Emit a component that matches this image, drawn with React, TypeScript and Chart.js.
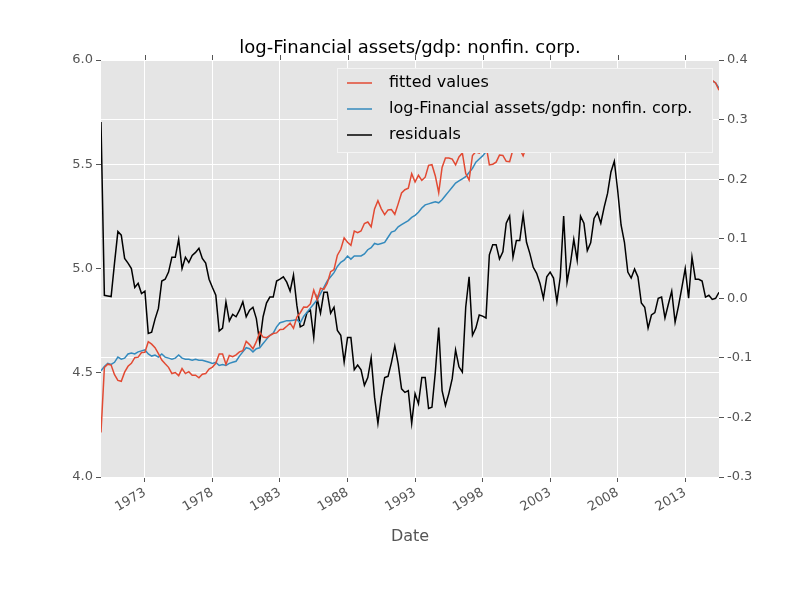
import { useEffect, useRef } from "react";
import { Chart, registerables } from "chart.js";
Chart.register(...registerables);

// quarterly observations, 1969Q4 .. 2015Q3
const START_YEAR = 1969.75;
const STEP = 0.25;

const actual = [
  4.51, 4.53, 4.545, 4.54, 4.55, 4.575, 4.565, 4.57, 4.59, 4.595,
  4.59, 4.6, 4.605, 4.61, 4.59, 4.58, 4.585, 4.575, 4.59, 4.575,
  4.57, 4.565, 4.57, 4.585, 4.57, 4.565, 4.565, 4.56, 4.565, 4.56,
  4.56, 4.555, 4.55, 4.545, 4.55, 4.535, 4.54, 4.535, 4.545, 4.55,
  4.555, 4.58, 4.6, 4.62, 4.615, 4.6, 4.615, 4.62, 4.64, 4.66,
  4.68, 4.69, 4.72, 4.74, 4.745, 4.75, 4.75, 4.752, 4.755, 4.74,
  4.77, 4.79, 4.81, 4.83, 4.85, 4.88, 4.91, 4.94, 4.96, 4.98,
  5.01, 5.03, 5.04, 5.06, 5.045, 5.06, 5.06, 5.06, 5.07, 5.09,
  5.1, 5.12, 5.115, 5.12, 5.125, 5.15, 5.175, 5.18, 5.2, 5.21,
  5.22, 5.23, 5.245, 5.255, 5.27, 5.29, 5.305, 5.31, 5.315, 5.32,
  5.315, 5.33, 5.35, 5.37, 5.39, 5.41, 5.42, 5.43, 5.44, 5.46,
  5.48, 5.51, 5.525, 5.54, 5.56, 5.57, 5.59, 5.6, 5.61, 5.62,
  5.64, 5.65, 5.64, 5.66, 5.67, 5.68, 5.68, 5.69, 5.69, 5.7,
  5.7, 5.7, 5.71, 5.71, 5.72, 5.72, 5.73, 5.74, 5.74, 5.75,
  5.76, 5.76, 5.77, 5.77, 5.78, 5.79, 5.8, 5.81, 5.81, 5.82,
  5.83, 5.82, 5.8, 5.78, 5.76, 5.75, 5.76, 5.77, 5.78, 5.78,
  5.79, 5.79, 5.8, 5.8, 5.81, 5.82, 5.82, 5.82, 5.83, 5.84,
  5.84, 5.85, 5.86, 5.86, 5.87, 5.88, 5.88, 5.89, 5.89, 5.9,
  5.9, 5.9, 5.89, 5.865,
];

const residuals = [
  0.296, 0.005, 0.004, 0.003, 0.059, 0.112, 0.106, 0.067, 0.059, 0.05,
  0.018, 0.025, 0.008, 0.012, -0.059, -0.057, -0.035, -0.017, 0.029, 0.032,
  0.044, 0.069, 0.069, 0.099, 0.05, 0.069, 0.06, 0.072, 0.077, 0.084,
  0.067, 0.059, 0.032, 0.018, 0.005, -0.055, -0.05, -0.006, -0.038, -0.027,
  -0.031, -0.02, -0.006, -0.031, -0.02, -0.015, -0.034, -0.074, -0.031, -0.008,
  0.002, 0.002, 0.029, 0.032, 0.036, 0.027, 0.012, 0.039, -0.012, -0.048,
  -0.045, -0.024, -0.02, -0.066, 0.0, -0.025, 0.01, 0.01, -0.025, -0.015,
  -0.054, -0.062, -0.107, -0.066, -0.066, -0.12, -0.112, -0.12, -0.146, -0.133,
  -0.1, -0.166, -0.21, -0.166, -0.133, -0.131, -0.108, -0.08, -0.11, -0.152,
  -0.158, -0.155, -0.21, -0.16, -0.177, -0.133, -0.133, -0.185, -0.183, -0.124,
  -0.049, -0.155, -0.18, -0.16, -0.135, -0.087, -0.115, -0.124, -0.015, 0.036,
  -0.062, -0.05, -0.028, -0.03, -0.033, 0.073, 0.09, 0.09, 0.066, 0.078,
  0.126, 0.138, 0.069, 0.097, 0.097, 0.14, 0.094, 0.075, 0.052, 0.042,
  0.025, 0.0, 0.036, 0.044, 0.034, -0.006, 0.036, 0.138, 0.027, 0.058,
  0.099, 0.064, 0.138, 0.126, 0.08, 0.093, 0.134, 0.144, 0.126, 0.153,
  0.176, 0.212, 0.23, 0.181, 0.123, 0.094, 0.044, 0.034, 0.049, 0.036,
  -0.008, -0.015, -0.05, -0.028, -0.024, 0.0, 0.002, -0.033, -0.01, 0.012,
  -0.04, -0.013, 0.018, 0.05, 0.0, 0.069, 0.032, 0.032, 0.029, 0.002,
  0.005, -0.002, 0.0, 0.01,
];

const yearTicks = [1973, 1978, 1983, 1988, 1993, 1998, 2003, 2008, 2013];

const TITLE = "log-Financial assets/gdp: nonfin. corp.";
const labels = ["fitted values", "log-Financial assets/gdp: nonfin. corp.", "residuals"];
const colors = ["#E24A33", "#348ABD", "#000000"];
const FONT = "'DejaVu Sans', sans-serif";

const years = actual.map((_, i) => START_YEAR + i * STEP);
// fitted = actual - residual
const fitted = actual.map((v, i) => v - residuals[i]);

const decorPlugin = {
  id: "decor",
  beforeDraw(chart: any) {
    const { ctx, chartArea: a } = chart;
    ctx.save();
    ctx.fillStyle = "#E5E5E5";
    ctx.fillRect(a.left, a.top, a.right - a.left, a.bottom - a.top);
    ctx.restore();
  },
  afterDraw(chart: any) {
    const { ctx, chartArea: a, scales } = chart;
    ctx.save();
    // top ticks
    ctx.strokeStyle = "#555";
    ctx.lineWidth = 1;
    yearTicks.forEach((t) => {
      const x = Math.round(scales.x.getPixelForValue(t)) + 0.5;
      ctx.beginPath();
      ctx.moveTo(x, a.top);
      ctx.lineTo(x, a.top - 5);
      ctx.stroke();
    });
    // title
    ctx.fillStyle = "#000";
    ctx.font = `18px ${FONT}`;
    ctx.textAlign = "center";
    ctx.textBaseline = "alphabetic";
    ctx.fillText(TITLE, (a.left + a.right) / 2, 53);
    // x label
    ctx.fillStyle = "#555";
    ctx.font = `16px ${FONT}`;
    ctx.fillText("Date", (a.left + a.right) / 2, 541);
    // legend
    const bx = 337, by = 68, bw = 375, bh = 84;
    ctx.fillStyle = "#E5E5E5";
    ctx.fillRect(bx, by, bw, bh);
    ctx.strokeStyle = "#f4f4f4";
    ctx.strokeRect(bx + 0.5, by + 0.5, bw, bh);
    ctx.font = `16px ${FONT}`;
    ctx.textAlign = "left";
    ctx.textBaseline = "middle";
    labels.forEach((l, i) => {
      const y = by + 15 + i * 26;
      ctx.strokeStyle = colors[i];
      ctx.lineWidth = 1.5;
      ctx.beginPath();
      ctx.moveTo(347, y);
      ctx.lineTo(372, y);
      ctx.stroke();
      ctx.fillStyle = "#000";
      ctx.fillText(l, 389, y);
    });
    ctx.restore();
  },
};

export default function App() {
  const canvasRef = useRef<HTMLCanvasElement>(null);

  useEffect(() => {
    if (!canvasRef.current) return;
    const tickFont = { family: FONT, size: 13 };
    const chart = new Chart(canvasRef.current, {
      type: "line",
      data: {
        datasets: [
          {
            label: labels[0],
            data: years.map((x, i) => ({ x, y: fitted[i] })),
            borderColor: colors[0],
            yAxisID: "y",
          },
          {
            label: labels[1],
            data: years.map((x, i) => ({ x, y: actual[i] })),
            borderColor: colors[1],
            yAxisID: "y",
          },
          {
            label: labels[2],
            data: years.map((x, i) => ({ x, y: residuals[i] })),
            borderColor: colors[2],
            yAxisID: "y1",
          },
        ],
      },
      options: {
        animation: false,
        responsive: false,
        layout: { padding: { top: 60 } },
        elements: {
          point: { radius: 0 },
          line: { borderWidth: 1.5, tension: 0 },
        },
        plugins: {
          legend: { display: false },
          title: { display: false },
          tooltip: { enabled: false },
        },
        scales: {
          x: {
            type: "linear",
            min: years[0],
            max: years[years.length - 1],
            afterBuildTicks: (s: any) => {
              s.ticks = yearTicks.map((v) => ({ value: v }));
            },
            afterFit: (s: any) => {
              s.height = 120;
            },
            ticks: {
              font: tickFont,
              color: "#555",
              minRotation: 30,
              maxRotation: 30,
              callback: (v: any) => String(v),
            },
            grid: { color: "#fff", tickColor: "#555", tickLength: 5 },
            border: { display: false },
          },
          y: {
            position: "left",
            min: 4,
            max: 6,
            afterFit: (s: any) => {
              s.width = 101;
            },
            ticks: {
              stepSize: 0.5,
              font: tickFont,
              color: "#555",
              callback: (v: any) => Number(v).toFixed(1),
            },
            grid: { color: "#fff", tickColor: "#555", tickLength: 5 },
            border: { display: false },
          },
          y1: {
            position: "right",
            min: -0.3,
            max: 0.4,
            afterFit: (s: any) => {
              s.width = 81;
            },
            ticks: {
              stepSize: 0.1,
              font: tickFont,
              color: "#555",
              callback: (v: any) => Number(v).toFixed(1),
            },
            grid: { color: "#fff", tickColor: "#555", tickLength: 5 },
            border: { display: false },
          },
        },
      },
      plugins: [decorPlugin],
    });
    return () => chart.destroy();
  }, []);

  return (
    <div style={{ position: "fixed", left: 0, top: 0, background: "#fff" }}>
      <canvas ref={canvasRef} width={800} height={597} />
    </div>
  );
}
